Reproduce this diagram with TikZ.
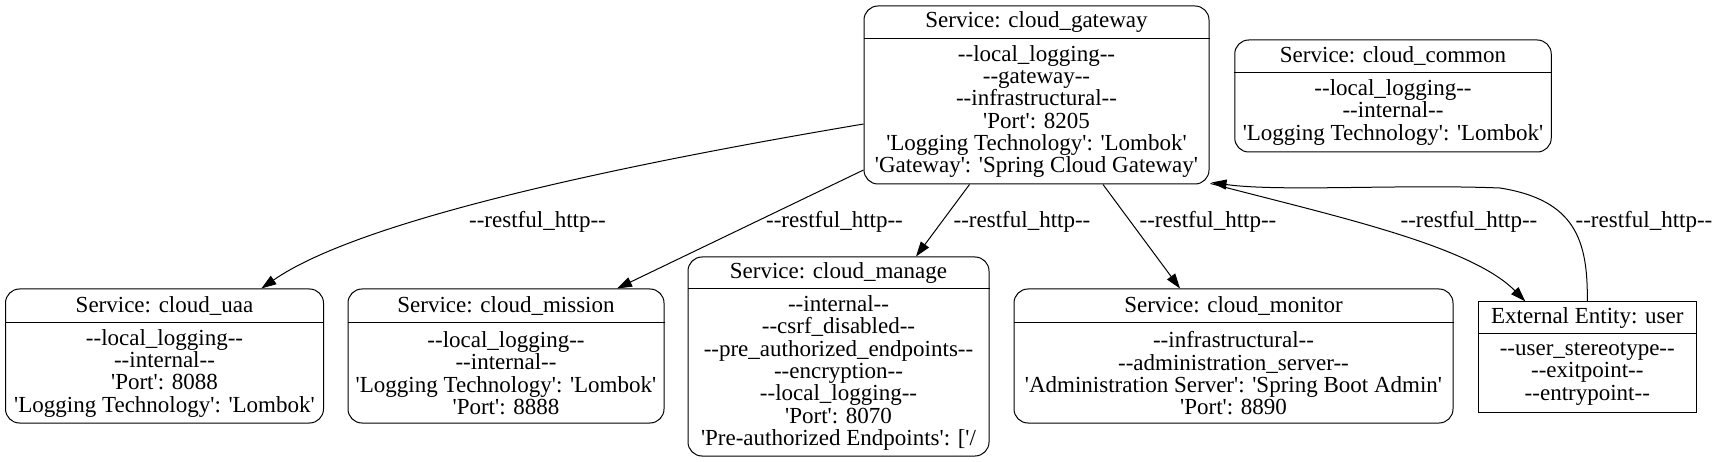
\documentclass[tikz,border=0pt]{standalone}
\usepackage{fontspec}
\newfontfamily\gvfont{Liberation Serif}
\usetikzlibrary{arrows.meta,calc}
\begin{document}
\begin{tikzpicture}[x=1pt,y=-1pt,
  every node/.style={font=\gvfont\fontsize{23}{22.3}\selectfont},
  svc/.style={draw,line width=1pt,rounded corners=14pt,inner sep=0pt},
  ent/.style={draw,line width=1pt,inner sep=0pt},
  txt/.style={align=center,inner sep=0pt},
  lbl/.style={inner sep=0pt},
  sep/.style={line width=1pt},
  conn/.style={line width=1pt,-{Triangle[length=15pt,width=10pt]}},
]
\useasboundingbox (0,0) rectangle (1716,462);

% boxes
\node[svc,minimum width=345pt,minimum height=178pt] (gw) at (1036.5,95) {};
\node[svc,minimum width=316.5pt,minimum height=112pt] (common) at (1393,96) {};
\node[svc,minimum width=318pt,minimum height=134pt] (uaa) at (164.5,356) {};
\node[svc,minimum width=316pt,minimum height=134pt] (mission) at (506,356) {};
\node[svc,minimum width=301pt,minimum height=199pt] (manage) at (838.5,356.5) {};
\node[svc,minimum width=439pt,minimum height=134pt] (monitor) at (1233.5,356) {};
\node[ent,minimum width=217.4pt,minimum height=110.3pt] (user) at (1587.3,357) {};

% header separators
\draw[sep] ($(gw.north west)+(0,33)$) -- ($(gw.north east)+(0,33)$);
\draw[sep] ($(common.north west)+(0,33)$) -- ($(common.north east)+(0,33)$);
\draw[sep] ($(uaa.north west)+(0,34)$) -- ($(uaa.north east)+(0,34)$);
\draw[sep] ($(mission.north west)+(0,34)$) -- ($(mission.north east)+(0,34)$);
\draw[sep] ($(manage.north west)+(0,32)$) -- ($(manage.north east)+(0,32)$);
\draw[sep] ($(monitor.north west)+(0,34)$) -- ($(monitor.north east)+(0,34)$);
\draw[sep] ($(user.north west)+(0,32.3)$) -- ($(user.north east)+(0,32.3)$);

% headers
\node[txt] (gwh) at (1036.5,22.5) {Service: cloud\_gateway};
\node[txt] (commonh) at (1393,56.5) {Service: cloud\_common};
\node[txt] (uaah) at (164.5,306) {Service: cloud\_uaa};
\node[txt] (missionh) at (506,306) {Service: cloud\_mission};
\node[txt] (manageh) at (838.5,273) {Service: cloud\_manage};
\node[txt] (monitorh) at (1233.5,306) {Service: cloud\_monitor};
\node[txt] (userh) at (1587.3,318) {External Entity: user};

% bodies
\node[txt] (gwb) at (1036.5,111.5) {--local\_logging--\\--gateway--\\--infrastructural--\\'Port': 8205\\'Logging Technology': 'Lombok'\\'Gateway': 'Spring Cloud Gateway'};
\node[txt] (commonb) at (1393,112.5) {--local\_logging--\\--internal--\\'Logging Technology': 'Lombok'};
\node[txt] (uaab) at (164.5,373.3) {--local\_logging--\\--internal--\\'Port': 8088\\'Logging Technology': 'Lombok'};
\node[txt] (missionb) at (506,373.3) {--local\_logging--\\--internal--\\'Logging Technology': 'Lombok'\\'Port': 8888};
\node[txt] (manageb) at (838.5,373) {--internal--\\--csrf\_disabled--\\--pre\_authorized\_endpoints--\\--encryption--\\--local\_logging--\\'Port': 8070\\'Pre-authorized Endpoints': ['/};
\node[txt] (monitorb) at (1233.5,373.3) {--infrastructural--\\--administration\_server--\\'Administration Server': 'Spring Boot Admin'\\'Port': 8890};
\node[txt] (userb) at (1587.3,374) {--user\_stereotype--\\--exitpoint--\\--entrypoint--};

% connectors
\draw[conn] (gw) .. controls (620,165) and (360,220) .. (uaa);
\draw[conn] ([yshift=-75pt]gw.west) -- ([xshift=111pt]mission.north);
\draw[conn] ([xshift=-67pt]gw.south) -- ([xshift=77.5pt]manage.north);
\draw[conn] ([xshift=66.5pt]gw.south) -- ([xshift=-53.5pt]monitor.north);
\draw[conn] ([xshift=1pt,yshift=1pt]gw.south east) .. controls (1330,215) and (1470,245) .. ([xshift=-62pt]user.north);
\draw[conn] (user.north) .. controls (1588,240) and (1575,200) .. (1500,188) .. controls (1400,184) and (1280,192) .. ([xshift=2pt,yshift=2pt]gw.south east);

% labels
\node[lbl] (l1) at (537.5,222) {--restful\_http--};
\node[lbl] (l2) at (834.5,222) {--restful\_http--};
\node[lbl] (l3) at (1022,222) {--restful\_http--};
\node[lbl] (l4) at (1208,222) {--restful\_http--};
\node[lbl] (l5) at (1469,222) {--restful\_http--};
\node[lbl] (l6) at (1644,222) {--restful\_http--};
\end{tikzpicture}
\end{document}
